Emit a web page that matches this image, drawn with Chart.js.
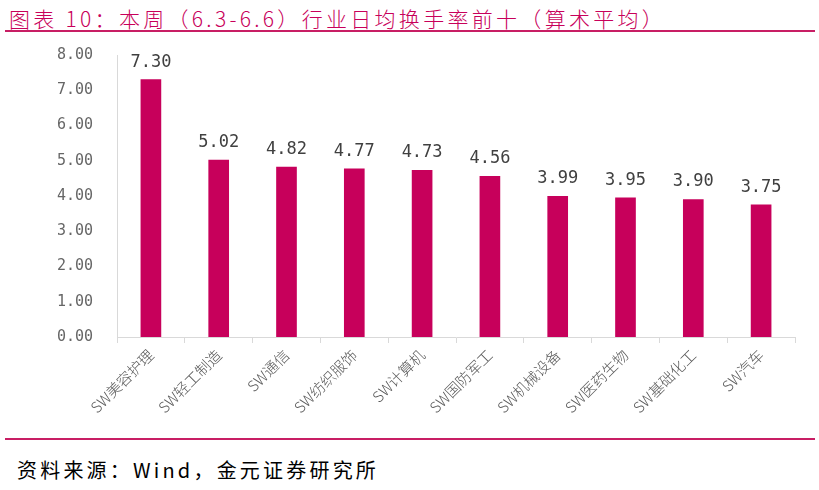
<!DOCTYPE html>
<html>
<head>
<meta charset="utf-8">
<script src="https://cdn.jsdelivr.net/npm/chart.js@4/dist/chart.umd.min.js"></script>
<style>
  html, body { margin: 0; padding: 0; background: #fff; }
  body { width: 819px; height: 490px; position: relative; overflow: hidden; }
  .title {
    position: absolute; left: 9px; top: 3px;
    font: 300 21px "Noto Sans CJK SC", sans-serif; letter-spacing: 3.3px;
    color: #C8005A; white-space: nowrap;
  }
  .rule { position: absolute; left: 5px; width: 810px; height: 2px; background: #C81E64; }
  .source {
    position: absolute; left: 17px; top: 455px;
    font: 20px "Noto Sans CJK SC", sans-serif; letter-spacing: 3.2px;
    color: #000; white-space: nowrap;
  }
  #wrap { position: absolute; left: 0; top: 22px; width: 819px; height: 410px; }
</style>
</head>
<body>
<div class="title">图表 10：本周（6.3-6.6）行业日均换手率前十（算术平均）</div>
<div class="rule" style="top:30px"></div>
<div id="wrap"><canvas id="c"></canvas></div>
<div class="rule" style="top:438px"></div>
<div class="source">资料来源：Wind，金元证券研究所</div>

<script>
// ── data ─────────────────────────────────────────────────────────────────────
const industries = ['SW美容护理', 'SW轻工制造', 'SW通信', 'SW纺织服饰', 'SW计算机',
                    'SW国防军工', 'SW机械设备', 'SW医药生物', 'SW基础化工', 'SW汽车'];
const turnover = [7.30, 5.02, 4.82, 4.77, 4.73, 4.56, 3.99, 3.95, 3.90, 3.75];
const yTicks = [0, 1, 2, 3, 4, 5, 6, 7, 8];

// value labels above bars
const barLabels = {
    id: 'barLabels',
    afterDatasetsDraw(chart) {
        const ctx = chart.ctx;
        ctx.save();
        ctx.font = '17px "DejaVu Sans Mono", monospace';
        ctx.fillStyle = '#404040';
        ctx.textAlign = 'center';
        ctx.textBaseline = 'bottom';
        chart.getDatasetMeta(0).data.forEach((bar, i) => {
            ctx.fillText(turnover[i].toFixed(2), bar.x, bar.y - 9);
        });
        ctx.restore();
    }
};

new Chart(document.getElementById('c'), {
    type: 'bar',
    data: {
        labels: industries,
        datasets: [{ data: turnover, backgroundColor: '#C7005B', barThickness: 20 }]
    },
    options: {
        responsive: true,
        maintainAspectRatio: false,
        animation: false,
        layout: { padding: { top: 13, right: 24, left: 0, bottom: 0 } },
        plugins: { legend: { display: false }, tooltip: { enabled: false } },
        scales: {
            x: {
                grid: { drawOnChartArea: false, drawTicks: true, tickLength: 6, color: '#d9d9d9', offset: true },
                border: { color: '#d9d9d9' },
                ticks: {
                    minRotation: 45, maxRotation: 45, padding: 3,
                    color: '#595959', font: { size: 15, family: '"Noto Sans CJK SC", sans-serif', weight: 300 }
                },
                afterFit: s => { s.height = 95; }
            },
            y: {
                min: 0, max: 8,
                afterBuildTicks: s => { s.ticks = yTicks.map(v => ({ value: v })); },
                grid: { display: false, drawTicks: false },
                border: { color: '#d9d9d9' },
                ticks: {
                    padding: 24, color: '#666666',
                    font: { size: 15, family: '"DejaVu Sans Mono", monospace' },
                    callback: v => v.toFixed(2)
                },
                afterFit: s => { s.width = 117; }
            }
        }
    },
    plugins: [barLabels]
});
</script>
</body>
</html>
